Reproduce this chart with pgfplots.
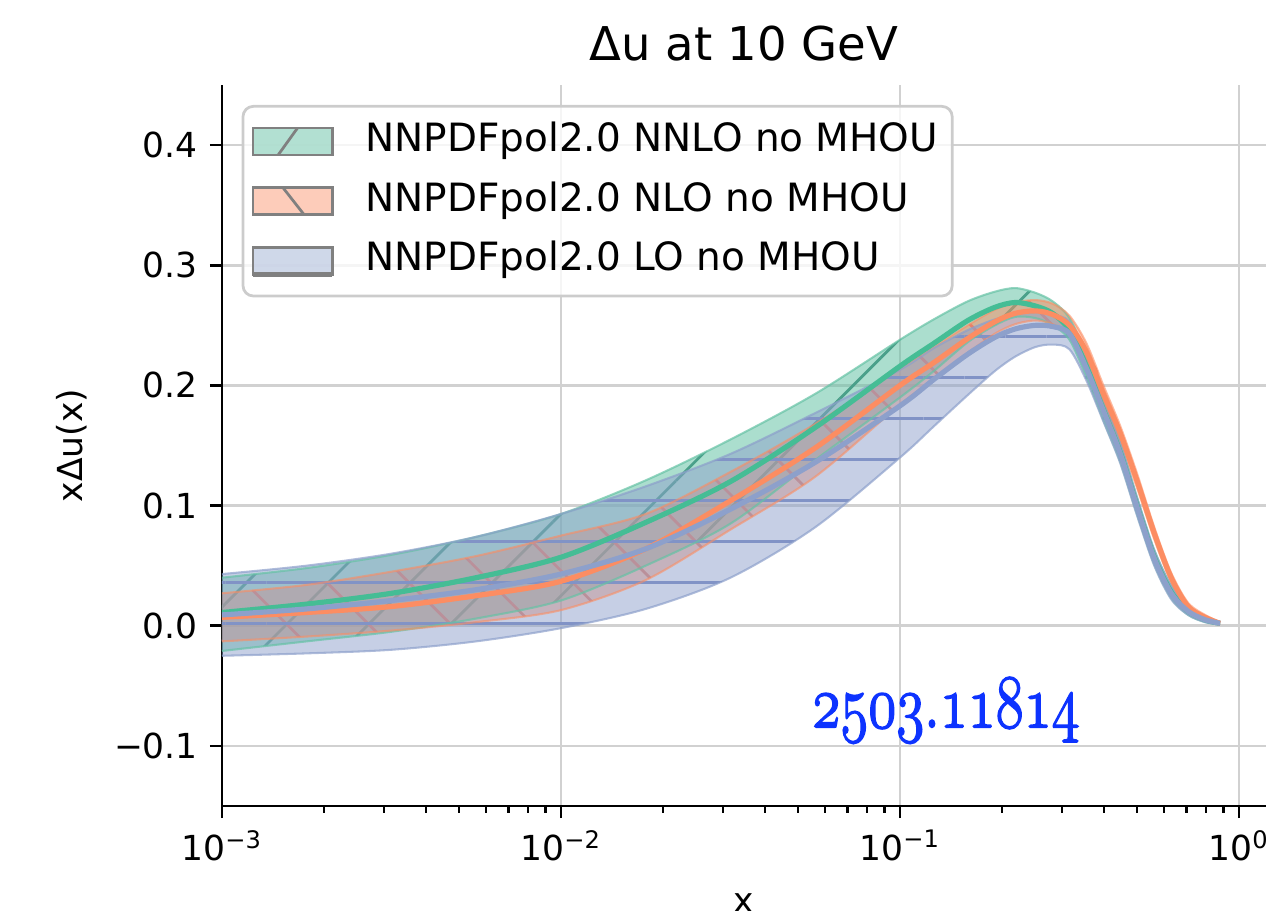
\documentclass[border=0pt]{standalone}
\usepackage{pgfplots}
\pgfplotsset{compat=1.18}
\usepackage{pgfplotstable}
\usepackage{graphicx}
\usepackage{fontspec}
\setmainfont{DejaVu Sans}
\usepgfplotslibrary{fillbetween}
\usetikzlibrary{patterns.meta}

\definecolor{cG}{HTML}{66C2A5}
\definecolor{cO}{HTML}{FC8D62}
\definecolor{cB}{HTML}{8DA0CB}
\definecolor{lG}{HTML}{45BD95}
\definecolor{hG}{HTML}{4AA08A}
\definecolor{hO}{HTML}{E8806A}
\definecolor{hB}{HTML}{8193C6}
\definecolor{arx}{rgb}{0.05,0.2,1}

% x  central  lower  upper
\pgfplotstableread{
x c lo hi
0.001     0.011 -0.021 0.040
0.0017783 0.018 -0.013 0.048
0.0031623 0.027 -0.005 0.059
0.0056234 0.040  0.006 0.074
0.01      0.057  0.021 0.093
0.017783  0.086  0.050 0.121
0.031623  0.120  0.085 0.155
0.056234  0.165  0.138 0.193
0.1       0.216  0.190 0.238
0.12589   0.235  0.212 0.255
0.15849   0.254  0.236 0.270
0.19055   0.265  0.250 0.278
0.21878   0.269  0.257 0.281
0.25119   0.266  0.256 0.277
0.28184   0.260  0.250 0.270
0.31623   0.246  0.238 0.256
0.35481   0.216  0.207 0.225
0.39811   0.180  0.171 0.188
0.44668   0.144  0.136 0.152
0.50119   0.099  0.092 0.106
0.56234   0.057  0.051 0.063
0.63096   0.028  0.023 0.033
0.70795   0.012  0.009 0.015
0.79433   0.005  0.003 0.007
0.87902   0.002  0.001 0.003
}\nnlo

\pgfplotstableread{
x c lo hi
0.001     0.007 -0.013 0.027
0.0017783 0.011 -0.009 0.034
0.0031623 0.016 -0.004 0.045
0.0056234 0.025  0.003 0.058
0.01      0.037  0.013 0.075
0.017783  0.064  0.038 0.093
0.031623  0.104  0.080 0.128
0.056234  0.148  0.124 0.168
0.1       0.200  0.184 0.214
0.12589   0.219  0.205 0.232
0.15849   0.239  0.227 0.250
0.19055   0.253  0.243 0.263
0.21878   0.260  0.251 0.269
0.25119   0.262  0.254 0.271
0.28184   0.259  0.251 0.268
0.31623   0.250  0.242 0.258
0.35481   0.228  0.221 0.235
0.39811   0.193  0.186 0.200
0.44668   0.160  0.153 0.166
0.50119   0.120  0.114 0.126
0.56234   0.077  0.072 0.082
0.63096   0.040  0.036 0.044
0.70795   0.016  0.013 0.019
0.79433   0.007  0.005 0.009
0.87902   0.002  0.001 0.003
}\nlo

\pgfplotstableread{
x c lo hi
0.001     0.009 -0.025 0.043
0.0017783 0.014 -0.023 0.050
0.0031623 0.021 -0.020 0.060
0.0056234 0.030 -0.013 0.074
0.01      0.043 -0.002 0.093
0.017783  0.064  0.014 0.116
0.031623  0.097  0.040 0.143
0.056234  0.136  0.082 0.177
0.1       0.183  0.140 0.213
0.12589   0.205  0.166 0.231
0.15849   0.226  0.192 0.246
0.19055   0.240  0.212 0.255
0.21878   0.247  0.224 0.259
0.25119   0.250  0.232 0.261
0.28184   0.249  0.234 0.259
0.31623   0.243  0.230 0.253
0.35481   0.214  0.204 0.225
0.39811   0.179  0.170 0.189
0.44668   0.143  0.135 0.152
0.50119   0.098  0.091 0.106
0.56234   0.056  0.050 0.063
0.63096   0.027  0.022 0.033
0.70795   0.012  0.009 0.015
0.79433   0.005  0.003 0.007
0.87902   0.002  0.001 0.003
}\lo

\begin{document}
\begin{tikzpicture}
\begin{axis}[
  at={(0,0)}, anchor=south west,
  scale only axis, width=302.76pt, height=209.09pt,
  xmode=log, xmin=0.001, xmax=1.2013, ymin=-0.15, ymax=0.45,
  axis x line*=bottom, axis y line*=left,
  axis line style={line width=0.8pt, black},
  tick align=outside,
  major tick length=3.5pt, minor tick length=2pt,
  every tick/.style={black, line width=0.8pt},
  minor tick style={black, line width=0.6pt},
  xtick={0.001,0.01,0.1,1},
  xticklabels={10\textsuperscript{−3},10\textsuperscript{−2},10\textsuperscript{−1},10\textsuperscript{0}},
  minor xtick={0.002,0.003,0.004,0.005,0.006,0.007,0.008,0.009,0.02,0.03,0.04,0.05,0.06,0.07,0.08,0.09,0.2,0.3,0.4,0.5,0.6,0.7,0.8,0.9},
  ytick={-0.1,0,0.1,0.2,0.3,0.4},
  yticklabels={−0.1,0.0,0.1,0.2,0.3,0.4},
  tick label style={font=\fontsize{10}{12}\selectfont},
  grid=major,
  major grid style={line width=0.8pt, color=black!18},
  title={Δu at 10 GeV},
  title style={at={(axis description cs:0.5,1)}, anchor=base, yshift=1pt, font=\fontsize{13.5}{16}\selectfont},
  xlabel={x},
  xlabel style={at={(axis description cs:0.5,0)}, anchor=north, yshift=-21.9pt, font=\fontsize{10}{12}\selectfont},
  ylabel={xΔu(x)},
  ylabel style={at={(axis description cs:-0.1437,0.5)}, anchor=center, font=\fontsize{10}{12}\selectfont},
  legend cell align=left,
  legend style={at={(axis description cs:0.0188,0.9723)}, anchor=north west,
    draw=black!20, line width=0.8pt, rounded corners=3pt, fill=white, fill opacity=0.8, text opacity=1,
    inner xsep=2.1pt, inner ysep=2.6pt, row sep=2.1pt, column sep=6.8pt,
    nodes={inner sep=2pt, text height=8.5pt, text depth=2.7pt},
    font=\fontsize{11.3}{13}\selectfont},
]
% boundary paths
\addplot[name path=gh, draw=none, smooth, forget plot] table[x=x,y=hi]{\nnlo};
\addplot[name path=gl, draw=none, smooth, forget plot] table[x=x,y=lo]{\nnlo};
\addplot[name path=oh, draw=none, smooth, forget plot] table[x=x,y=hi]{\nlo};
\addplot[name path=ol, draw=none, smooth, forget plot] table[x=x,y=lo]{\nlo};
\addplot[name path=bh, draw=none, smooth, forget plot] table[x=x,y=hi]{\lo};
\addplot[name path=bl, draw=none, smooth, forget plot] table[x=x,y=lo]{\lo};
% fills and hatches
\addplot[fill=cG, fill opacity=0.55, draw=none, forget plot] fill between[of=gh and gl];
\addplot[pattern={Lines[angle=45,distance=16.8pt,line width=0.8pt]}, pattern color=hG, draw=none, forget plot] fill between[of=gh and gl];
\addplot[fill=cO, fill opacity=0.5, draw=none, forget plot] fill between[of=oh and ol];
\addplot[pattern={Lines[angle=-45,distance=16.8pt,line width=0.8pt]}, pattern color=hO, draw=none, forget plot] fill between[of=oh and ol];
\addplot[fill=cB, fill opacity=0.5, draw=none, forget plot] fill between[of=bh and bl];
\addplot[pattern={Lines[angle=0,distance=11.9pt,line width=0.8pt]}, pattern color=hB, draw=none, forget plot] fill between[of=bh and bl];
% band edges
\addplot[draw=cG, draw opacity=0.7, line width=0.6pt, smooth, forget plot] table[x=x,y=hi]{\nnlo};
\addplot[draw=cG, draw opacity=0.7, line width=0.6pt, smooth, forget plot] table[x=x,y=lo]{\nnlo};
\addplot[draw=cO, draw opacity=0.6, line width=0.6pt, smooth, forget plot] table[x=x,y=hi]{\nlo};
\addplot[draw=cO, draw opacity=0.6, line width=0.6pt, smooth, forget plot] table[x=x,y=lo]{\nlo};
\addplot[draw=cB, draw opacity=0.7, line width=0.6pt, smooth, forget plot] table[x=x,y=hi]{\lo};
\addplot[draw=cB, draw opacity=0.7, line width=0.6pt, smooth, forget plot] table[x=x,y=lo]{\lo};
% central values
\addplot[draw=lG, line width=1.5pt, smooth, forget plot] table[x=x,y=c]{\nnlo};
\addplot[draw=cO, line width=1.5pt, smooth, forget plot] table[x=x,y=c]{\nlo};
\addplot[draw=cB, line width=1.5pt, smooth, forget plot] table[x=x,y=c]{\lo};
% legend
\addlegendimage{legend image code/.code={
  \draw[sharp corners, fill=cG!62!white, draw=gray, line width=0.8pt] (0pt,-3.9pt) rectangle (23pt,3.9pt);
  \draw[sharp corners, gray, line width=0.8pt] (7.3pt,-3.9pt) -- (12.9pt,3.9pt);}}
\addlegendentry{NNPDFpol2.0 NNLO no MHOU}
\addlegendimage{legend image code/.code={
  \draw[sharp corners, fill=cO!55!white, draw=gray, line width=0.8pt] (0pt,-3.9pt) rectangle (23pt,3.9pt);
  \draw[sharp corners, gray, line width=0.8pt] (8.7pt,3.9pt) -- (14.8pt,-3.9pt);}}
\addlegendentry{NNPDFpol2.0 NLO no MHOU}
\addlegendimage{legend image code/.code={
  \draw[sharp corners, fill=cB!52!white, draw=gray, line width=0.8pt] (0pt,-3.9pt) rectangle (23pt,3.9pt);
  \draw[sharp corners, gray, line width=1.6pt] (0pt,-3.9pt) -- (23pt,-3.9pt);}}
\addlegendentry{NNPDFpol2.0 LO no MHOU}
% watermark
\node[anchor=base, text=arx, inner sep=0pt] at (axis cs:0.1368,-0.0846)
  {\scalebox{0.8}[1.06]{\fontsize{20.74}{24}\usefont{OML}{cmm}{m}{it}\special{pdf:literal direct 2 Tr 0.45 w}2503\char58 11814\special{pdf:literal direct 0 Tr}}};
\end{axis}
\pgfresetboundingbox
\path[use as bounding box] (-64.38pt,-30.45pt) rectangle (302.76pt,233.74pt);
\end{tikzpicture}
\end{document}
